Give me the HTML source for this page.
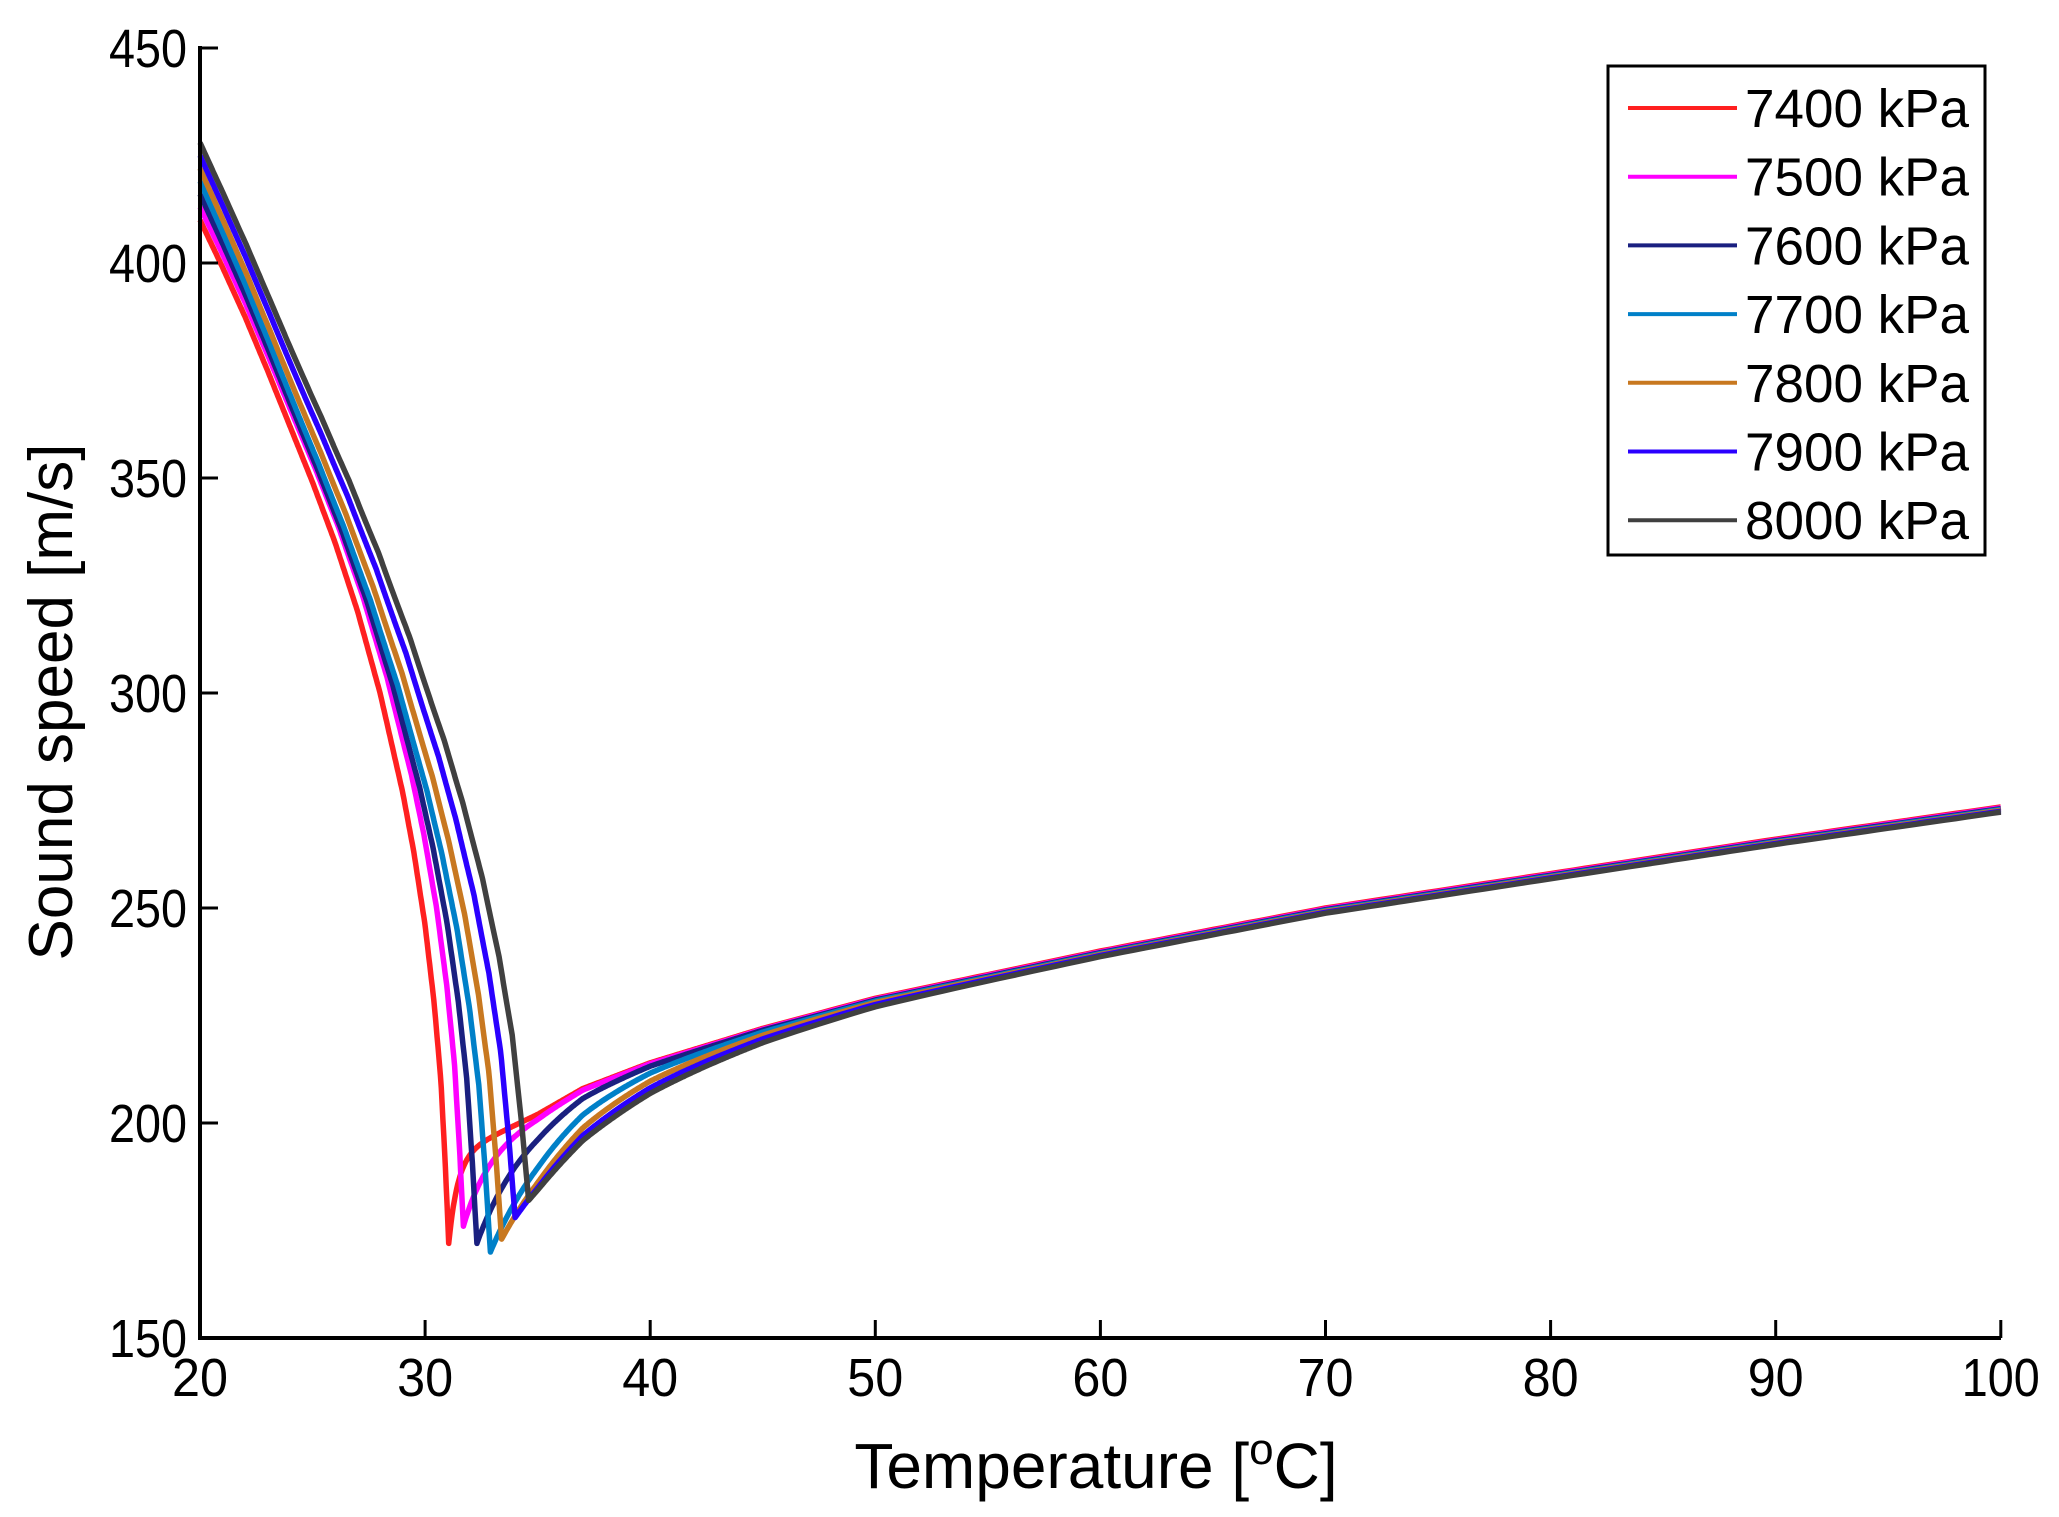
<!DOCTYPE html>
<html><head><meta charset="utf-8"><style>
html,body{margin:0;padding:0;background:#fff;}
svg{display:block;}
text{font-family:"Liberation Sans",sans-serif;fill:#000;}
</style></head><body>
<svg id="s" width="2059" height="1517" viewBox="0 0 2059 1517" xmlns="http://www.w3.org/2000/svg">
<g id="curves" fill="none" stroke-width="5.5" stroke-linejoin="round"></g>
<g stroke="#000" stroke-width="4" fill="none">
<path d="M200,46 V1338 H2001"/>
</g>
<g id="ticks" stroke="#000" stroke-width="3"></g>
<g id="labels" font-size="54"></g>
<text x="1096" y="1488" font-size="64" text-anchor="middle">Temperature [<tspan dy="-24" font-size="44">o</tspan><tspan dy="24">C]</tspan></text>
<text transform="translate(72,702) rotate(-90)" font-size="62" text-anchor="middle">Sound speed [m/s]</text>
<rect x="1608" y="66" width="377" height="489" fill="#fff" stroke="#000" stroke-width="3"/>
<g id="legend" font-size="54"></g>
</svg>
<script>
var X=function(t){return 200+(t-20)*22.51;};
var Y=function(v){return 1338-(v-150)*4.3;};
var ns="http://www.w3.org/2000/svg";
function el(p,n,a,txt){var e=document.createElementNS(ns,n);for(var k in a)e.setAttribute(k,a[k]);if(txt)e.textContent=txt;document.getElementById(p).appendChild(e);return e;}
for(var t=30;t<=100;t+=10){el("ticks","line",{x1:X(t),x2:X(t),y1:1338,y2:1320});}
for(var v=200;v<=450;v+=50){el("ticks","line",{x1:200,x2:218,y1:Y(v),y2:Y(v)});}
for(var t=20;t<=100;t+=10){el("labels","text",{x:X(t),y:1396,"text-anchor":"middle",textLength:(t==100?78:56),lengthAdjust:"spacingAndGlyphs"},""+t);}
for(var v=150;v<=450;v+=50){el("labels","text",{x:187,y:Y(v)+19,"text-anchor":"end",textLength:78,lengthAdjust:"spacingAndGlyphs"},""+v);}
var cols=["#ff2020","#ff00ff","#1a2080","#0080c8","#c87820","#2a00ff","#404040"];
var names=["7400 kPa","7500 kPa","7600 kPa","7700 kPa","7800 kPa","7900 kPa","8000 kPa"];
var tmin=[31.05,31.7,32.3,32.9,33.4,34.0,34.6];
var vmin=[172,176,172,170,173,178,182];
var v0=[410,413,416,419,422,425,428];
var redL=[[20,410],[21,399],[22,387.5],[23,375],[24,362],[25,349],[26,335],[27,319],[28,300],[29,277],[29.5,263],[30,246],[30.4,228],[30.7,210],[30.9,190],[31.05,172]];
var base=[[30,188],[31,192],[33,197],[35,202],[37,208],[40,214],[45,222],[50,229],[60,240],[70,250],[80,258],[90,266],[100,273.5]];
function interp(pts,t){if(t<=pts[0][0])return pts[0][1];for(var i=1;i<pts.length;i++){if(t<=pts[i][0]){var a=pts[i-1],b=pts[i];return a[1]+(b[1]-a[1])*(t-a[0])/(b[0]-a[0]);}}return pts[pts.length-1][1];}
for(var i=0;i<7;i++){
 var d="";var first=true;
 var sh=tmin[i]-31.05;
 var N=300;
 for(var k=0;k<=N;k++){
  var t=20+(tmin[i]-20)*k/N;
  var s=(t-20)/(tmin[i]-20);
  var w=Math.pow(s,2.2);
  var tp=t-sh*w;
  var v=interp(redL,tp)+(v0[i]-410)*(1-s)+(vmin[i]-172)*s;
  d+=(first?"M":"L")+X(t).toFixed(1)+","+Y(v).toFixed(1);first=false;
 }
 var tau=0.4+0.75*i;var A=interp(base,tmin[i])-0.2*i-vmin[i];
 var ts=[];for(var t=tmin[i]+0.05;t<45;t+=0.05)ts.push(t);for(var t=45;t<100;t+=0.5)ts.push(t);ts.push(100);
 ts.forEach(function(t){
  var v=interp(base,t)-0.2*i-A*Math.exp(-(t-tmin[i])/tau);
  d+="L"+X(t).toFixed(1)+","+Y(v).toFixed(1);
 });
 el("curves","path",{d:d,stroke:cols[i]});
 var ly=108+i*68.7;
 el("legend","line",{x1:1628,x2:1737,y1:ly,y2:ly,stroke:cols[i],"stroke-width":4});
 el("legend","text",{x:1745,y:ly+19,textLength:224,lengthAdjust:"spacingAndGlyphs"},names[i]);
}
</script>
</body></html>
